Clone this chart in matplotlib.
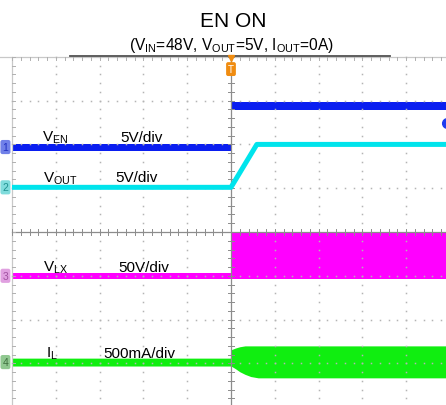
import matplotlib.pyplot as plt
import numpy as np

plt.rcParams['font.family'] = ['Liberation Sans', 'DejaVu Sans']
plt.rcParams['mathtext.default'] = 'regular'

# scope screen in divisions (10 x 8), trigger at t = 0

# V_EN (ch1), band edges
ven_t = [-5.0, 0.0, 0.0, 5.0]
ven_lo = [1.86, 1.86, 2.79, 2.79]
ven_hi = [2.01, 2.01, 2.97, 2.97]

# V_OUT (ch2) soft-start ramp
vout_t = [-5.0, 0.0, 0.59, 5.0]
vout_v = [1.02, 1.02, 2.0, 2.0]

# V_LX (ch3) switching envelope
vlx_t = [-5.0, 0.0, 0.0, 5.0]
vlx_lo = [-1.07, -1.07, -1.07, -1.07]
vlx_hi = [-0.94, -0.94, 0.0, 0.0]

# I_L (ch4) ripple envelope
il_t = [-5.0, 0.0, 0.0, 0.1, 0.2, 0.32, 0.45, 0.62, 5.0]
il_lo = [-3.06, -3.06, -3.06, -3.12, -3.19, -3.25, -3.30, -3.33, -3.33]
il_hi = [-2.88, -2.88, -2.69, -2.65, -2.62, -2.60, -2.60, -2.60, -2.60]

fig = plt.figure(figsize=(4.46, 4.06), dpi=100)
ax = fig.add_axes([0, 0, 1, 1])
ax.set_xlim(-5.274, 4.909)
ax.set_ylim(-3.95, 5.32)
ax.axis('off')

# dotted graticule
grid_c = '#b4b4b4'
minor = np.arange(-5, 5.01, 0.2)
minor_y = np.arange(-4, 4.01, 0.2)
for gx in range(-4, 6):
    if gx == 0:
        continue
    ax.plot(np.full_like(minor_y, gx), minor_y, ls='none', marker='s', ms=1.1, color=grid_c, mew=0)
for gy in range(-4, 4):
    if gy == 0:
        continue
    ax.plot(minor, np.full_like(minor, gy), ls='none', marker='s', ms=1.1, color=grid_c, mew=0)

# centre axes and borders with ticks
ax.plot([0, 0], [-4, 4], color='#8c8c8c', lw=0.9)
ax.plot([-5, 5], [0, 0], color='#8c8c8c', lw=0.9)
ax.plot([-5, -5], [-4, 4], color='#c8c8c8', lw=0.9)
ax.plot([-5.3, 5], [4, 4], color='#c8c8c8', lw=0.9)
ax.plot([-3.68, 3.63], [4.01, 4.01], color='#505050', lw=1.3)
for m in minor_y:
    ax.plot([-0.07, 0.07], [m, m], color='#8c8c8c', lw=0.7)
    ax.plot([-5, -4.93], [m, m], color='#b0b0b0', lw=0.7)
for m in minor:
    ax.plot([m, m], [-0.07, 0.07], color='#8c8c8c', lw=0.7)
    ax.plot([m, m], [4, 3.93], color='#b0b0b0', lw=0.7)

# traces
ax.fill_between(ven_t, ven_lo, ven_hi, color='#0a1ef0', lw=0)
ax.plot(vout_t, vout_v, color='#00e4ec', lw=3.6, solid_capstyle='butt')
ax.fill_between(vlx_t, vlx_lo, vlx_hi, color='#ff00ff', lw=0)
ax.fill_between(il_t, il_lo, il_hi, color='#10ee10', lw=0)

# off-screen marker for ch1 on the right
ax.plot([4.93], [2.49], marker='o', ms=7, color='#1e3cf0', clip_on=True)

# channel reference tabs
tabs = [('1', 1.94, '#7080e8', '#2030c0'),
        ('2', 1.02, '#80dcdc', '#209090'),
        ('3', -1.0, '#e0a0e0', '#a050a0'),
        ('4', -2.97, '#90c890', '#407040')]
for num, yy, fc, tc in tabs:
    ax.text(-5.15, yy, num, fontsize=7.5, color=tc, ha='center', va='center',
            bbox=dict(boxstyle='round,pad=0.2', fc=fc, ec='none'))

# trigger marker
ax.plot([0], [3.97], marker='v', ms=5, color='#f08c10')
ax.text(0, 3.72, 'T', fontsize=7, color='white', ha='center', va='center',
        bbox=dict(boxstyle='round,pad=0.2', fc='#f08c10', ec='none'))

# channel labels
lab = dict(fontsize=11, color='black', va='baseline', ha='left')
ax.text(-4.32, 2.08, 'V$_{EN}$', **lab)
ax.text(-2.53, 2.08, '5V/div', **lab)
ax.text(-4.29, 1.16, 'V$_{OUT}$', **lab)
ax.text(-2.65, 1.16, '5V/div', **lab)
ax.text(-4.29, -0.89, 'V$_{LX}$', **lab)
ax.text(-2.58, -0.89, '50V/div', **lab)
ax.text(-4.22, -2.85, 'I$_{L}$', **lab)
ax.text(-2.92, -2.85, '500mA/div', **lab)

# titles
ax.text(0.05, 4.70, 'EN ON', fontsize=15, ha='center', va='baseline')
ax.text(0.02, 4.18, '(V$_{IN}$=48V, V$_{OUT}$=5V, I$_{OUT}$=0A)', fontsize=11.2,
        ha='center', va='baseline')

fig.savefig('out.png', dpi=100)
